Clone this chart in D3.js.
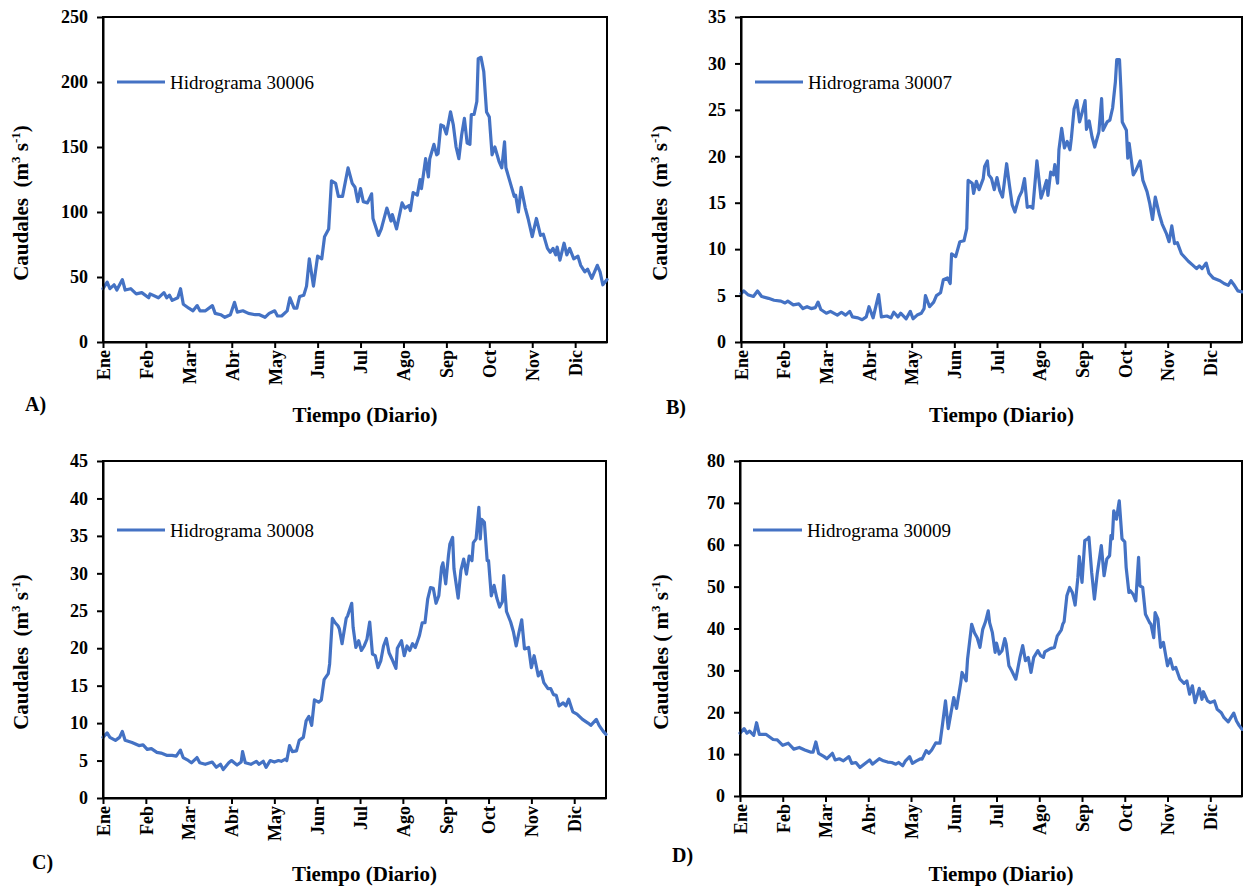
<!DOCTYPE html>
<html><head><meta charset="utf-8">
<script src="https://cdn.jsdelivr.net/npm/d3@7"></script>
<style>
body{margin:0;background:#fff}
svg{display:block}
svg text{font-family:'Liberation Serif','Times New Roman',serif;fill:#000}
</style>
</head><body>
<svg id="chart" width="1243" height="887"></svg>
<script>
// ---------------- DATA ----------------
const months = ["Ene","Feb","Mar","Abr","May","Jun","Jul","Ago","Sep","Oct","Nov","Dic"];
const monthTickDays = [0,31,62,93,124,155,186,217,248,279,310,341];
const stations = ["30006","30007","30008","30009"];
const yTicksA = [0,50,100,150,200,250];
const yTicksB = [0,5,10,15,20,25,30,35];
const yTicksC = [0,5,10,15,20,25,30,35,40,45];
const yTicksD = [0,10,20,30,40,50,60,70,80];

const daysA = [0,3,5,8,10,14,16,20,24,28,33,34,40,44,46,48,50,54,56,58,62,65,68,70,74,79,81,85,88,92,95,97,101,105,110,113,117,120,124,126,129,133,135,138,140,142,145,147,149,152,155,158,160,163,165,168,170,173,177,180,182,184,186,188,191,194,195,199,201,205,208,209,212,216,218,221,222,224,227,229,230,233,235,236,239,241,242,244,246,248,251,253,255,257,259,261,263,265,266,268,270,271,273,275,277,279,281,283,286,288,290,291,294,297,298,300,302,305,307,310,313,316,318,321,323,325,327,328,330,333,335,337,340,343,345,348,350,353,357,359,361,364];
const flowA = [41,46,41,44,40,48,40,41,37,38,34,37,34,38,34,36,32,34,41,29,26,24,28,24,24,28,22,21,19,21,30.5,23,24,22,21,21,19,22,24,20,20,24,34,26,26,35,36,43,64,43,66,64,81,87,124,122,112,112,134,122,119,108,118,108,107,114,95,82,87,103,93,98,87,107,103,105,101,115,113,125,118,141,127,141,152,144,145,167,166,160,177,167,150,141,159,172,153,152,175,175,185,218,219,208,177,173,144,150,139,134,154,134,123,112,113,100,119,103,95,81,95,82,83,72,69,72,67,73,63,76,67,72,64,66,59,54,56,49,59,54,44,48];

const daysB = [0,2,5,9,12,15,20,24,29,32,34,38,42,45,48,51,54,56,58,62,65,70,73,76,79,81,85,88,91,93,96,100,102,106,109,111,114,116,120,123,125,128,131,133,134,137,140,142,145,147,150,152,153,156,159,162,164,165,168,169,171,173,176,177,179,180,182,184,186,188,190,193,195,197,199,202,204,206,208,210,212,215,218,220,222,223,225,227,228,230,231,233,235,237,239,240,242,244,246,248,250,251,253,255,257,260,262,263,266,268,270,272,273,275,276,277,280,281,282,285,287,290,292,295,297,299,301,304,306,309,311,313,315,317,320,325,328,331,333,335,338,340,343,348,351,354,356,358,361,364];
const flowB = [5.2,5.5,5.1,4.9,5.5,4.9,4.7,4.5,4.4,4.2,4.4,4.0,4.1,3.6,3.8,3.6,3.7,4.3,3.5,3.1,3.3,2.9,3.2,2.9,3.3,2.7,2.6,2.4,2.7,3.8,2.6,5.1,2.7,2.8,2.6,3.2,2.7,3.1,2.5,3.3,2.5,2.9,3.1,3.6,5.0,3.8,4.3,5.0,5.3,6.7,6.9,6.3,9.5,9.2,10.8,10.9,12.2,17.4,17.1,16.0,17.3,16.4,17.6,18.9,19.5,18.0,17.6,16.4,17.7,16.3,15.6,19.2,16.9,14.8,14.0,15.6,16.2,17.6,14.5,14.6,14.4,19.5,15.5,16.4,17.4,15.8,18.3,18.0,19.1,17.1,20.7,23.0,20.9,21.6,20.7,21.9,25.1,26.0,23.7,24.8,26.0,22.9,23.8,22.1,21.0,22.6,26.2,22.8,23.7,23.9,25.2,28.0,30.4,30.4,27.3,23.7,22.8,19.8,21.4,18.0,18.5,19.5,17.4,16.2,14.9,13.2,15.6,13.7,12.7,11.7,10.8,12.5,10.6,10.7,9.5,8.7,8.3,7.9,8.2,7.9,8.5,7.4,6.9,6.6,6.3,6.1,6.6,6.2,5.5,5.4];

const daysC = [0,3,5,9,12,14,16,21,26,29,32,35,39,42,46,50,53,56,58,61,64,68,70,74,79,82,85,87,91,93,97,100,101,103,107,111,113,116,118,121,124,127,129,132,133,135,137,140,142,145,147,149,151,153,156,158,160,163,164,166,168,170,171,173,176,177,180,181,183,185,187,189,191,193,195,197,199,201,203,205,207,209,212,213,216,218,220,222,224,226,229,231,233,235,237,239,241,243,245,246,248,250,251,253,254,257,259,261,263,265,267,268,270,272,273,274,276,278,279,281,283,285,287,289,290,292,295,297,299,301,303,305,308,310,312,315,317,319,322,324,326,328,330,333,335,337,340,343,347,351,353,357,359,362,364];
const flowC = [8.1,8.7,8.1,7.7,8.1,8.9,7.7,7.4,7.0,7.1,6.5,6.6,6.1,6.0,5.7,5.7,5.6,6.4,5.4,5.1,4.7,5.4,4.7,4.5,4.8,4.1,4.5,3.8,4.7,5.0,4.4,4.8,6.2,4.7,4.5,4.9,4.5,4.9,4.1,5.0,4.8,5.0,4.9,5.2,5.0,7.0,6.2,6.3,7.7,8.1,10.3,10.9,9.7,13.1,12.8,13.1,15.8,16.6,17.9,24.0,23.4,23.0,22.6,20.6,24.0,24.3,26.0,22.8,20.1,21.0,19.7,20.3,21.2,23.5,19.2,19.0,17.4,18.3,20.3,21.3,19.4,18.6,17.3,20.0,21.0,19.0,20.3,19.7,20.6,20.1,21.7,23.4,23.4,26.6,28.1,28.0,26.0,27.0,30.8,31.4,28.6,32.4,33.9,34.8,30.6,26.7,30.4,31.9,29.9,32.3,31.7,34.1,34.6,38.8,34.6,37.2,36.8,31.7,31.7,27.0,28.4,26.7,25.5,26.2,29.7,24.9,23.5,22.2,20.3,22.1,23.8,19.9,20.1,17.4,19.0,16.3,16.9,15.4,14.6,14.6,13.8,13.7,12.3,12.7,12.3,13.2,11.5,11.2,10.5,10.0,9.7,10.5,9.7,8.9,8.5];

const daysD = [0,3,5,7,10,12,14,19,24,27,31,35,39,43,47,51,53,55,57,61,63,67,69,72,75,79,81,84,87,90,94,96,101,104,107,110,113,115,118,120,123,125,128,131,132,135,137,139,142,145,147,149,151,153,155,157,160,161,164,165,168,170,172,174,176,178,180,181,183,185,186,188,190,192,193,195,197,200,203,205,207,209,211,213,216,218,220,221,225,228,230,233,234,235,237,239,241,243,245,246,248,250,252,253,255,257,259,262,264,266,268,269,270,271,273,274,275,277,279,280,282,283,285,287,289,290,292,294,297,298,300,301,303,305,307,310,312,314,316,319,322,324,326,328,330,333,335,336,339,341,344,346,349,351,354,358,360,362,364];
const flowD = [15.0,16.1,15.0,15.5,14.5,17.5,14.7,14.7,13.5,13.4,12.1,12.6,11.2,11.6,11.0,10.5,10.5,12.9,10.2,9.4,8.9,10.2,8.6,8.9,8.4,9.4,7.8,8.0,6.8,7.6,8.6,7.6,8.9,8.4,8.1,8.0,7.6,8.0,7.2,8.4,9.4,7.8,8.4,8.9,8.8,10.8,10.2,11.0,12.7,12.6,17.5,22.7,16.1,19.9,23.5,20.9,26.9,29.5,27.5,32.7,41.0,39.0,37.8,35.5,39.8,41.6,44.2,41.4,39.0,34.3,36.5,33.9,34.7,37.6,36.3,31.1,29.9,27.9,33.1,35.9,32.3,33.1,29.5,33.1,34.7,33.5,33.1,34.4,35.2,35.5,38.2,39.7,41.0,41.6,47.8,49.8,48.6,45.6,52.2,57.2,51.0,61.0,61.4,61.8,53.4,47.0,53.0,59.8,52.6,56.6,57.4,62.2,61.4,68.1,66.1,68.4,70.5,61.4,60.7,54.6,48.6,49.0,48.2,46.6,57.0,50.2,49.8,43.4,41.4,41.0,37.8,43.8,42.3,35.5,36.7,31.1,32.8,30.3,30.7,27.9,26.9,27.5,24.3,26.3,22.3,25.7,23.1,24.9,22.7,22.3,22.7,20.7,19.9,18.7,17.7,19.8,17.9,16.8,15.9];

// ---------------- LAYOUT ----------------
const SERIF = "'Liberation Serif','Times New Roman',serif";
const panels = [
  {tag:"A)", days:daysA, q:flowA, ticks:yTicksA, st:stations[0], L:103, R:607, T:17, B:342, ylx:28, yly:203, lab:[25,411], leg:[117,165,82], tY:422, open:"Caudales  (m"},
  {tag:"B)", days:daysB, q:flowB, ticks:yTicksB, st:stations[1], L:741, R:1242, T:17, B:342, ylx:667, yly:203, lab:[666,414], leg:[755,803,82], tY:422, open:"Caudales  (m"},
  {tag:"C)", days:daysC, q:flowC, ticks:yTicksC, st:stations[2], L:103, R:606, T:461, B:798, ylx:28, yly:652, lab:[32,869], leg:[117,165,530], tY:881, open:"Caudales  (m"},
  {tag:"D)", days:daysD, q:flowD, ticks:yTicksD, st:stations[3], L:740, R:1242, T:461, B:796, ylx:668, yly:652, lab:[672,862], leg:[753,802,530], tY:881, open:"Caudales ( m"}
];

const svg = d3.select("#chart");
const blue = "#4472C4";

panels.forEach(p => {
  const x = d3.scaleLinear().domain([0,364]).range([p.L,p.R]);
  const y = d3.scaleLinear().domain([0,d3.max(p.ticks)]).range([p.B,p.T]);
  const g = svg.append("g");

  g.append("rect").attr("x",p.L).attr("y",p.T).attr("width",p.R-p.L).attr("height",p.B-p.T)
    .attr("fill","none").attr("stroke","#000").attr("stroke-width",2);

  const pts = p.days.map((d,i)=>[d,p.q[i]]);
  g.append("path").datum(pts)
    .attr("fill","none").attr("stroke",blue).attr("stroke-width",3.2)
    .attr("stroke-linejoin","round").attr("stroke-linecap","round")
    .attr("d", d3.line().x(d=>x(d[0])).y(d=>y(d[1])));

  const ya = g.append("g").attr("transform",`translate(${p.L},0)`)
    .call(d3.axisLeft(y).tickValues(p.ticks).tickSize(6).tickPadding(9).tickSizeOuter(0));
  ya.attr("font-family",null).attr("font-size",null);
  ya.select(".domain").attr("stroke","#000").attr("stroke-width",2);
  ya.selectAll(".tick line").attr("stroke","#000").attr("stroke-width",2);
  ya.selectAll(".tick text").style("font-weight","bold").style("font-size","18px").attr("fill","#000");

  const xa = g.append("g").attr("transform",`translate(0,${p.B})`)
    .call(d3.axisBottom(x).tickValues(monthTickDays).tickFormat((d,i)=>months[i]).tickSize(6).tickSizeOuter(0));
  xa.attr("font-family",null).attr("font-size",null);
  xa.select(".domain").attr("stroke","#000").attr("stroke-width",2);
  xa.selectAll(".tick line").attr("stroke","#000").attr("stroke-width",2);
  xa.selectAll(".tick text")
    .attr("transform","rotate(-90)").attr("x",-8).attr("y",0).attr("dy","0.35em")
    .attr("text-anchor","end")
    .style("font-weight","bold").style("font-size","18px").attr("fill","#000");

  g.append("line").attr("x1",p.leg[0]).attr("x2",p.leg[1]).attr("y1",p.leg[2]).attr("y2",p.leg[2])
    .attr("stroke",blue).attr("stroke-width",3.2);
  g.append("text").attr("x",p.leg[1]+5).attr("y",p.leg[2]+7)
    .style("font-size","19px").text("Hidrograma " + p.st);

  const t = g.append("text").attr("transform",`translate(${p.ylx},${p.yly}) rotate(-90)`)
    .attr("text-anchor","middle").style("font-weight","bold").style("font-size","21px").style("white-space","pre");
  t.append("tspan").text(p.open);
  t.append("tspan").attr("dy",-8).style("font-size","13px").text("3");
  t.append("tspan").attr("dy",8).text(" s");
  t.append("tspan").attr("dy",-8).style("font-size","13px").text("-1");
  t.append("tspan").attr("dy",8).text(")");

  g.append("text").attr("x",(p.L+p.R)/2+10).attr("y",p.tY).attr("text-anchor","middle")
    .style("font-weight","bold").style("font-size","21px").text("Tiempo (Diario)");

  g.append("text").attr("x",p.lab[0]).attr("y",p.lab[1])
    .style("font-weight","bold").style("font-size","20px").text(p.tag);
});

svg.selectAll("text").style("font-family", SERIF);
</script>
</body></html>
